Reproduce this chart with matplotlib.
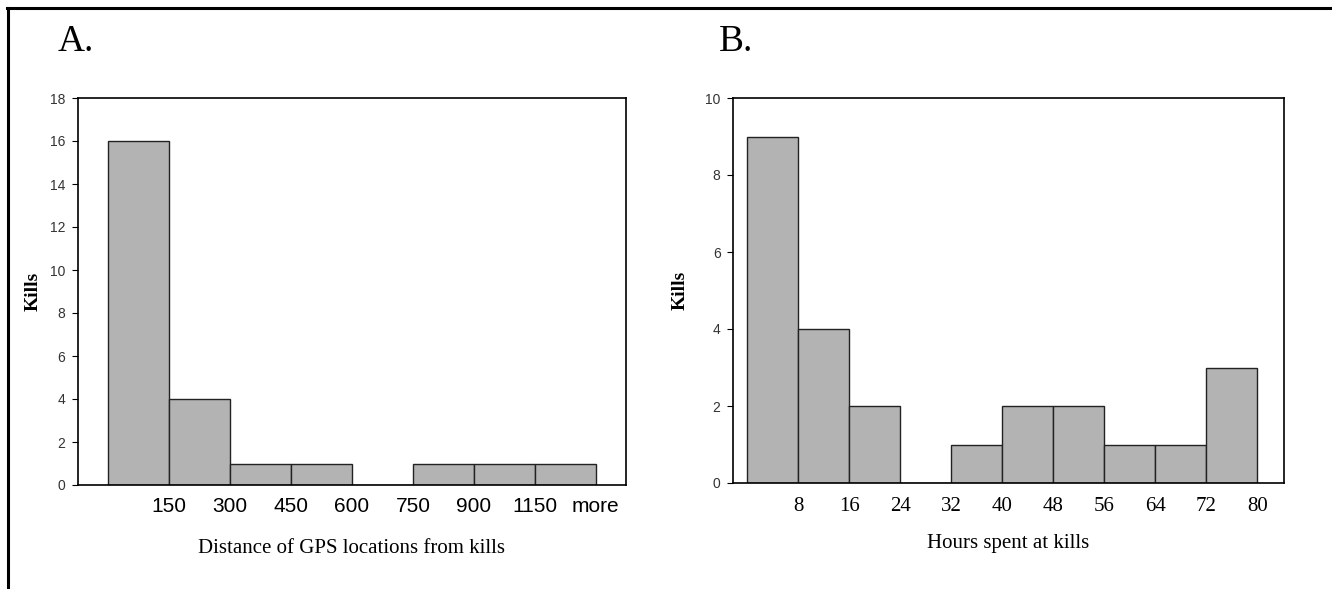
import matplotlib
matplotlib.use("Agg")
import matplotlib.pyplot as plt
from matplotlib.lines import Line2D

# Panel A data
dist_labels = ["150", "300", "450", "600", "750", "900", "1150", "more"]
dist_kills = [16, 4, 1, 1, 0, 1, 1, 1]

# Panel B data
hour_edges = [0, 8, 16, 24, 32, 40, 48, 56, 64, 72, 80]
hour_kills = [9, 4, 2, 0, 1, 2, 2, 1, 1, 3]
hour_ticks = [8, 16, 24, 32, 40, 48, 56, 64, 72, 80]

W, H = 1332, 589
fig = plt.figure(figsize=(W / 100, H / 100), dpi=100)

serif = ["Liberation Serif", "DejaVu Serif"]
sans = ["Liberation Sans", "DejaVu Sans"]
bar_color = "#b3b3b3"
edge = "#222222"

def ax_rect(l, t, r, b):
    return [l / W, 1 - b / H, (r - l) / W, (b - t) / H]

# Panel A
axA = fig.add_axes(ax_rect(78, 98, 626, 485))
xs = list(range(len(dist_kills)))
axA.bar([x + 0.5 for x in xs], dist_kills, width=1.0, color=bar_color,
        edgecolor=edge, linewidth=1.0)
axA.set_xlim(-0.5, 8.5)
axA.set_ylim(0, 18)
axA.set_yticks(range(0, 19, 2))
axA.set_xticks([x + 1 for x in xs])
axA.set_xticklabels(dist_labels, fontsize=15, family=sans)
axA.tick_params(axis="x", length=0, pad=9)
axA.tick_params(axis="y", length=4, width=0.8, labelsize=10, pad=5)
for lab in axA.get_yticklabels():
    lab.set_family(sans)
    lab.set_color("#333333")
axA.set_xlabel("Distance of GPS locations from kills", family=serif,
               fontsize=15, labelpad=16)
axA.set_ylabel("Kills", family=serif, fontsize=14, fontweight="bold", labelpad=6)
for s in axA.spines.values():
    s.set_linewidth(1.2)

# Panel B
axB = fig.add_axes(ax_rect(733, 98, 1284, 483))
axB.bar(hour_edges[:-1], hour_kills, width=8, align="edge", color=bar_color,
        edgecolor=edge, linewidth=1.0)
axB.set_xlim(-2.2, 84.2)
axB.set_ylim(0, 10)
axB.set_yticks(range(0, 11, 2))
axB.set_xticks(hour_ticks)
axB.set_xticklabels([str(t) for t in hour_ticks], fontsize=15, family=serif)
axB.tick_params(axis="x", length=0, pad=10)
axB.tick_params(axis="y", length=4, width=0.8, labelsize=10, pad=5)
for lab in axB.get_yticklabels():
    lab.set_family(sans)
    lab.set_color("#333333")
axB.set_xlabel("Hours spent at kills", family=serif, fontsize=15, labelpad=13)
axB.set_ylabel("Kills", family=serif, fontsize=14, fontweight="bold", labelpad=12)
for s in axB.spines.values():
    s.set_linewidth(1.2)

# Panel letters
fig.text(58 / W, 1 - 42 / H, "A.", family=serif, fontsize=27, va="center", ha="left")
fig.text(719 / W, 1 - 42 / H, "B.", family=serif, fontsize=27, va="center", ha="left")

# Outer border (top and left)
fig.add_artist(Line2D([7 / W, 1331 / W], [1 - 8 / H, 1 - 8 / H], color="black",
                      linewidth=2.2, transform=fig.transFigure))
fig.add_artist(Line2D([8 / W, 8 / W], [0, 1 - 8 / H], color="black",
                      linewidth=2.2, transform=fig.transFigure))

fig.savefig("out.png", dpi=100, facecolor="white")
